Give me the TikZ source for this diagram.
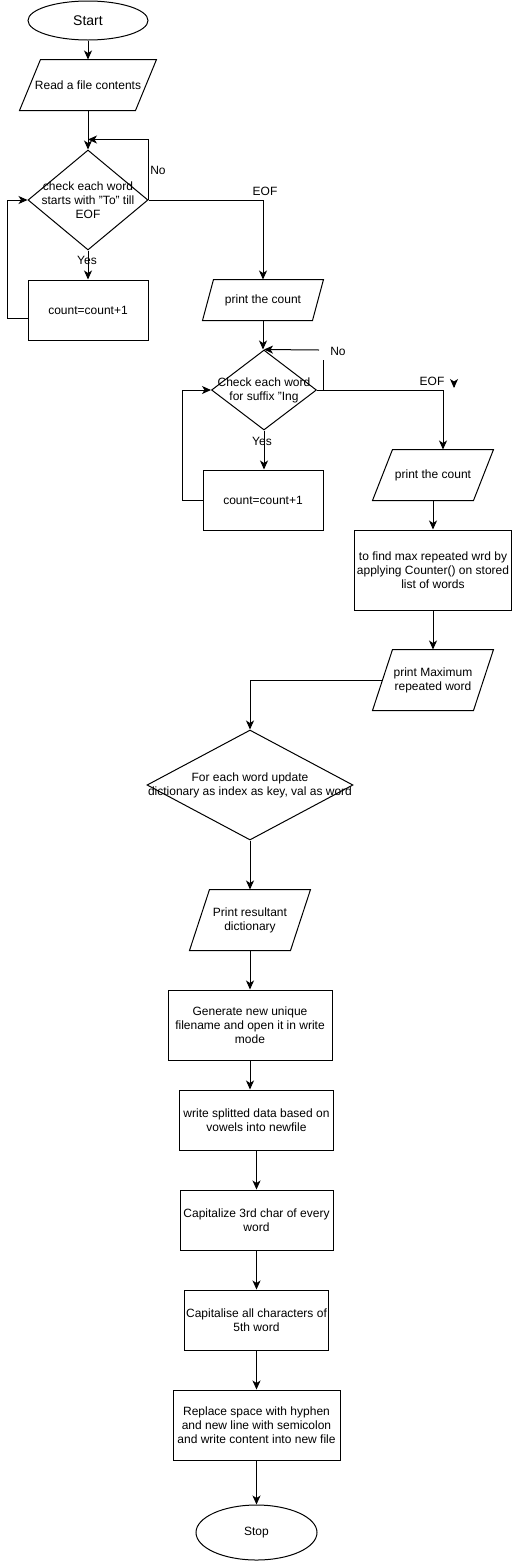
\documentclass[tikz,border=0pt]{standalone}
\usepackage{fontspec}
\setmainfont{Liberation Sans}
\usetikzlibrary{shapes.geometric,arrows.meta}
\newcommand\iopara[2]{\draw ([xshift=#2pt]#1.north west) -- (#1.north east) -- ([xshift=-#2pt]#1.south east) -- (#1.south west) -- cycle;}
\begin{document}
\begin{tikzpicture}[x=1pt,y=-1pt, line width=1pt, font=\fontsize{12}{14}\selectfont,
  arr/.style={-{Stealth[length=9pt,width=8pt,inset=2.5pt]}},
  term/.style={ellipse, draw, inner sep=0pt},
  proc/.style={rectangle, draw, inner sep=2pt, align=center},
  io/.style={rectangle, inner sep=0pt, align=center},
  dec/.style={diamond, draw, inner sep=0pt},
  lbl/.style={inner sep=0pt}]
\useasboundingbox (0,0) rectangle (512,1561);
% nodes
\node[term, minimum width=120pt, minimum height=39pt, font=\fontsize{14}{16}\selectfont] (start) at (88,20.5) {Start};
\node[io, minimum width=136pt, minimum height=50pt] (read) at (88,85) {Read a file contents};
\iopara{read}{21}
\node[dec, minimum width=120pt, minimum height=100pt,
  label={[align=center,lbl]center:check each word\\starts with "To" till\\EOF}] (d1) at (88,200) {};
\node[proc, minimum width=120pt, minimum height=60pt] (c1) at (88,310) {count=count+1};
\node[io, minimum width=120pt, minimum height=40pt] (p1) at (263,300) {print the count};
\iopara{p1}{11}
\node[dec, minimum width=105pt, minimum height=80pt,
  label={[align=center,lbl]center:Check each word\\for suffix "Ing}] (d2) at (264,390) {};
\node[proc, minimum width=120pt, minimum height=60pt] (c2) at (263,500) {count=count+1};
\node[io, minimum width=120pt, minimum height=50pt] (p2) at (433,475) {print the count};
\iopara{p2}{20}
\node[proc, minimum width=156pt, minimum height=80pt] (m) at (433,570) {to find max repeated wrd by\\applying Counter() on stored\\list of words};
\node[io, minimum width=120pt, minimum height=60pt] (pm) at (433,680) {print Maximum\\repeated word};
\iopara{pm}{20}
\node[dec, minimum width=206pt, minimum height=110pt,
  label={[align=center,lbl]center:For each word update\\dictionary as index as key, val as word}] (d3) at (250,785) {};
\node[io, minimum width=120pt, minimum height=60pt] (pr) at (250,920) {Print resultant\\dictionary};
\iopara{pr}{20}
\node[proc, minimum width=164pt, minimum height=70pt] (g) at (250,1025) {Generate new unique\\filename and open it in write\\mode};
\node[proc, minimum width=154pt, minimum height=60pt] (w) at (256.5,1120) {write splitted data based on\\vowels into newfile};
\node[proc, minimum width=153pt, minimum height=60pt] (c3) at (256.5,1220) {Capitalize 3rd char of every\\word};
\node[proc, minimum width=144pt, minimum height=60pt] (c5) at (256.5,1320) {Capitalise all characters of\\5th word};
\node[proc, minimum width=167pt, minimum height=70pt] (rep) at (256.5,1425) {Replace space with hyphen\\and new line with semicolon\\and write content into new file};
\node[term, minimum width=121pt, minimum height=55pt] (stop) at (256.5,1532.5) {Stop};
% labels
\node[lbl] (no1) at (158,170) {No};
\node[lbl] (eof1) at (265,191) {EOF};
\node[lbl] (yes1) at (87,260) {Yes};
\node[lbl] (no2) at (338,351) {No};
\node[lbl] (eof2) at (432,381) {EOF};
\node[lbl] (yes2) at (262,441) {Yes};
% connectors
\draw[arr] (start.south) -- (read.north);
\draw[arr] (read.south) -- (d1.north);
\draw[arr] (d1.east) |- ([yshift=10pt]d1.north);
\draw[arr] (d1.east) -| (p1.north);
\draw[arr] (d1.south) -- (c1.north);
\draw[arr] ([yshift=-8pt]c1.west) -- ++(-20,0) |- (d1.west);
\draw[arr] (p1.south) -- (p1.south |- d2.north);
\coordinate (n2a) at (319,350);
\coordinate (n2b) at (323,360);
\coordinate (n2c) at (323,390);
\draw[arr] (n2a) -- (d2.north);
\draw (n2c) -- (n2b);
\draw[arr] (d2.east) -| ([xshift=10pt]p2.north);
\draw[arr] (d2.south) -- (d2.south |- c2.north);
\draw[arr] (c2.west) -- ++(-20,0) |- (d2.west);
\coordinate (stray) at (454,388);
\draw[arr] ([yshift=1pt]stray) -- (stray);
\draw[arr] (p2.south) -- (m.north);
\draw[arr] (m.south) -- (pm.north);
\draw[arr] ([xshift=10pt]pm.west) -| (d3.north);
\draw[arr] (d3.south) -- (pr.north);
\draw[arr] (pr.south) -- (g.north);
\draw[arr] (g.south) -- (g.south |- w.north);
\draw[arr] (w.south) -- (c3.north);
\draw[arr] (c3.south) -- (c5.north);
\draw[arr] (c5.south) -- (rep.north);
\draw[arr] (rep.south) -- (stop.north);
\end{tikzpicture}
\end{document}
